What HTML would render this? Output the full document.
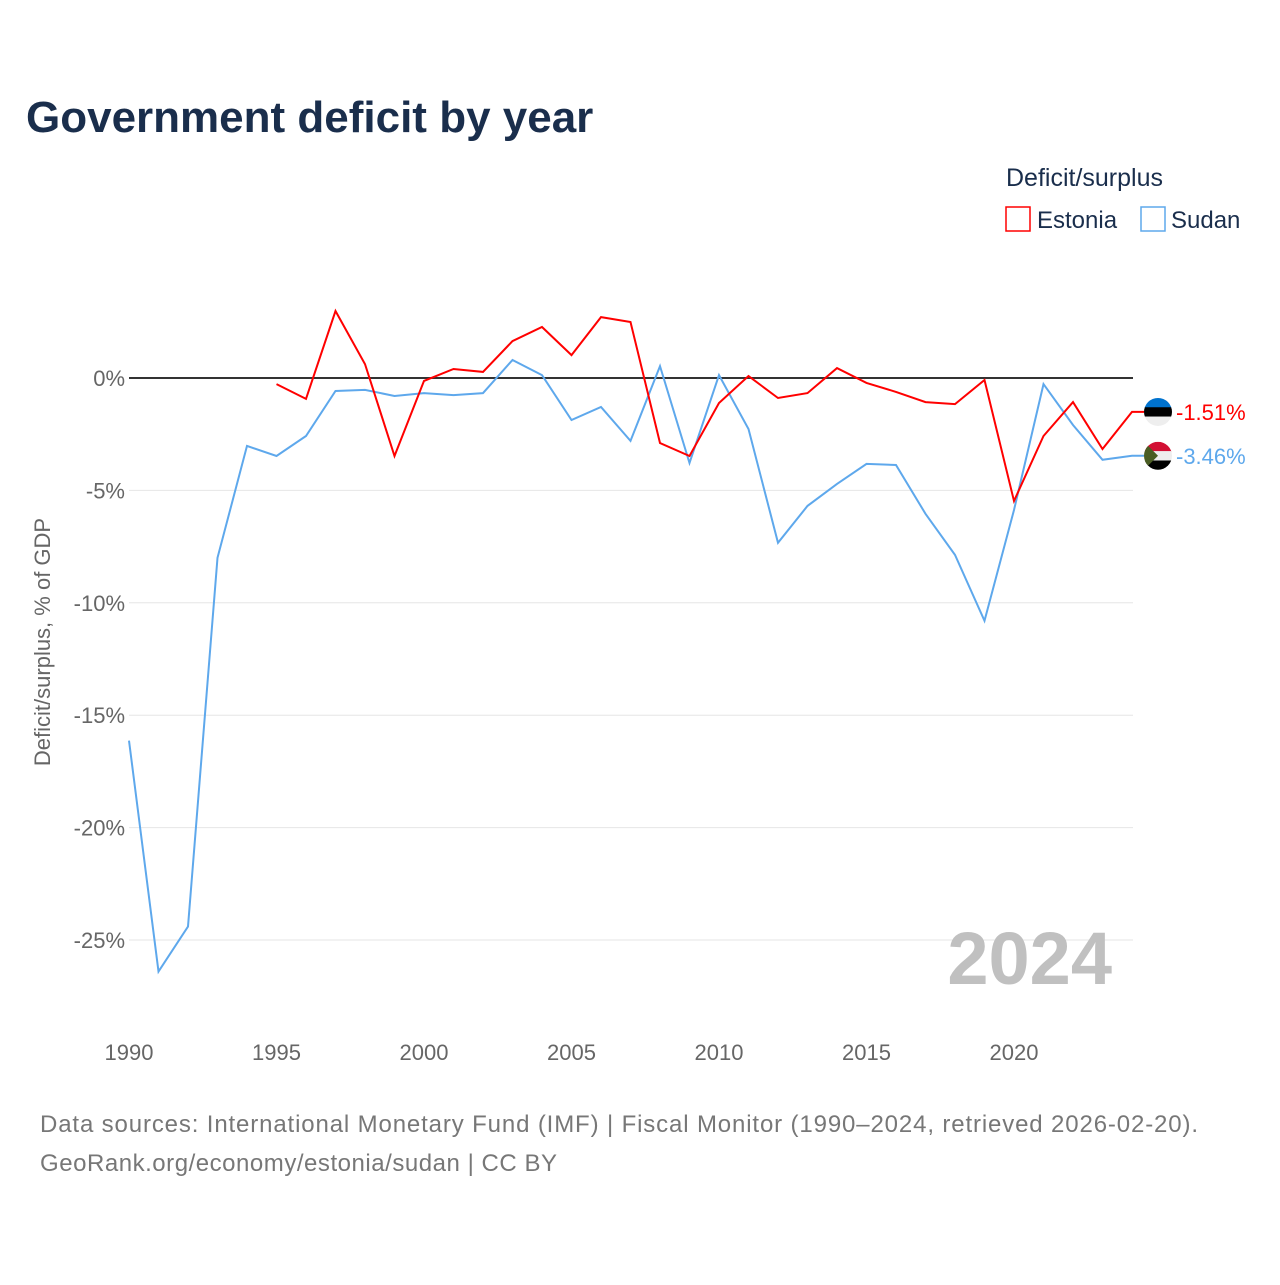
<!DOCTYPE html>
<html><head><meta charset="utf-8">
<style>
body{margin:0;background:#fff;font-family:"Liberation Sans",sans-serif;}
</style></head>
<body>
<svg id="chart" width="1280" height="1280" xmlns="http://www.w3.org/2000/svg">
<text x="26" y="132" font-size="44" font-weight="bold" fill="#1a2e4c">Government deficit by year</text>
<text x="1006" y="186" font-size="25" fill="#1a2e4c">Deficit/surplus</text>
<g><rect x="1006" y="207" width="24" height="24" fill="none" stroke="#ff0000" stroke-width="1.5"/><text x="1037" y="228" font-size="24" fill="#1a2e4c">Estonia</text></g>
<g><rect x="1141" y="207" width="24" height="24" fill="none" stroke="#5ea8ec" stroke-width="1.5"/><text x="1171" y="228" font-size="24" fill="#1a2e4c">Sudan</text></g>
<text transform="translate(50,642) rotate(-90)" text-anchor="middle" font-size="22" fill="#666">Deficit/surplus, % of GDP</text>
<g id="grid"></g><g id="yticks"></g><g id="xticks"></g>
<text x="1112" y="984" text-anchor="end" font-size="74" font-weight="bold" fill="#c0c0c0">2024</text>
<g id="series"></g>
<text x="40" y="1132" font-size="24" fill="#777" textLength="1158">Data sources: International Monetary Fund (IMF) | Fiscal Monitor (1990–2024, retrieved 2026-02-20).</text>
<text x="40" y="1171" font-size="24" fill="#777" textLength="517">GeoRank.org/economy/estonia/sudan | CC BY</text>
</svg>
<script>
const years=[];for(let y=1990;y<=2024;y++)years.push(y);
const estoniaYears=years.slice(5);
const estonia=[-0.27,-0.93,2.98,0.62,-3.47,-0.13,0.4,0.27,1.64,2.27,1.02,2.71,2.49,-2.89,-3.47,-1.11,0.09,-0.89,-0.67,0.44,-0.22,-0.62,-1.07,-1.16,-0.09,-5.47,-2.58,-1.07,-3.16,-1.51];
const sudan=[-16.13,-26.4,-24.4,-8.0,-3.02,-3.47,-2.58,-0.58,-0.53,-0.8,-0.67,-0.76,-0.67,0.8,0.13,-1.87,-1.29,-2.8,0.53,-3.78,0.13,-2.27,-7.33,-5.69,-4.71,-3.82,-3.87,-6.04,-7.87,-10.8,-5.87,-0.27,-2.09,-3.64,-3.46];
const yTicks=[0,-5,-10,-15,-20,-25];
const xTicks=[1990,1995,2000,2005,2010,2015,2020];
const NS="http://www.w3.org/2000/svg";
const xs=y=>129+(y-1990)*(1132-129)/34;
const ys=v=>378-v*22.48;
function mk(tag,attrs,parent){const e=document.createElementNS(NS,tag);for(const k in attrs)e.setAttribute(k,attrs[k]);document.getElementById(parent).appendChild(e);return e;}
yTicks.forEach(t=>{
 const l=mk('line',{x1:129,x2:1133,y1:ys(t),y2:ys(t),stroke:t===0?'#333':'#e6e6e6','stroke-width':t===0?2:1},'grid');
 
 
 const tx=mk('text',{x:125,y:ys(t)+8,'text-anchor':'end','font-size':22,fill:'#666'},'yticks');
 tx.textContent=t+'%';
 
 
});
xTicks.forEach(t=>{
 const tx=mk('text',{x:xs(t),y:1060,'text-anchor':'middle','font-size':22,fill:'#666'},'xticks');
 tx.textContent=t;
 
 
});
function line(xv,vals,color,name){
 const d=vals.map((v,i)=>(i?'L':'M')+xs(xv[i]).toFixed(1)+','+ys(v).toFixed(1)).join('')+'h12';
 const p=mk('path',{d:d,fill:'none',stroke:color,'stroke-width':2},'series');
 
 
}
line(years,sudan,'#5ea8ec','sudan-line');
line(estoniaYears,estonia,'#ff0000','estonia-line');
function endLabel(v,color,name,flag){
 const x=xs(2024),y=ys(v);
 const g=mk('g',{},'series');
 
 
 g.innerHTML=flag(x+26,y);
 const t=mk('text',{x:x+44,y:y+8,'font-size':22,fill:color},'series');
 t.textContent=v.toFixed(2)+'%';
 
 
}
endLabel(-1.51,'#ff0000','estonia',(cx,cy)=>`<clipPath id="ce"><circle cx="${cx}" cy="${cy}" r="14"/></clipPath><g clip-path="url(#ce)"><rect x="${cx-14}" y="${cy-14}" width="28" height="10" fill="#0072ce"/><rect x="${cx-14}" y="${cy-4.7}" width="28" height="9.4" fill="#000"/><rect x="${cx-14}" y="${cy+4.7}" width="28" height="10" fill="#eee"/></g>`);
endLabel(-3.46,'#5ea8ec','sudan',(cx,cy)=>`<clipPath id="cs"><circle cx="${cx}" cy="${cy}" r="14"/></clipPath><g clip-path="url(#cs)"><rect x="${cx-14}" y="${cy-14}" width="28" height="10" fill="#d21034"/><rect x="${cx-14}" y="${cy-4.7}" width="28" height="9.4" fill="#eee"/><rect x="${cx-14}" y="${cy+4.7}" width="28" height="10" fill="#000"/><polygon points="${cx-14},${cy-14} ${cx},${cy} ${cx-14},${cy+14}" fill="#4a5d23"/></g>`);
</script>
</body></html>
